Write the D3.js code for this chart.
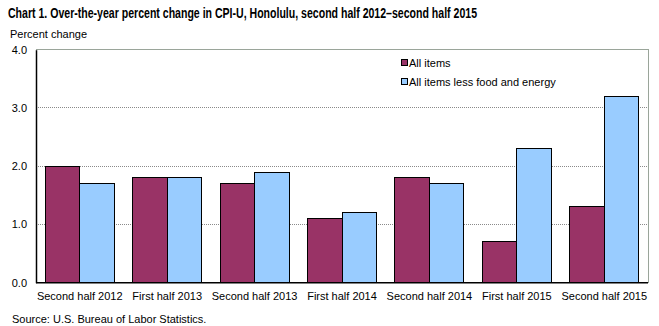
<!DOCTYPE html>
<html><head><meta charset="utf-8">
<script src="https://cdn.jsdelivr.net/npm/d3@7"></script>
<style>body{margin:0;background:#fff;} svg{display:block;font-family:"Liberation Sans",Arial,sans-serif;}</style>
</head><body>
<script>
const categories = ["Second half 2012","First half 2013","Second half 2013","First half 2014","Second half 2014","First half 2015","Second half 2015"];
const allItems = [2.0, 1.8, 1.7, 1.1, 1.8, 0.7, 1.3];
const lessFoodEnergy = [1.7, 1.8, 1.9, 1.2, 1.7, 2.3, 3.2];
const seriesNames = ["All items","All items less food and energy"];
const yTicks = [0, 1, 2, 3, 4];

const W = 659, H = 326;
const m = {left: 36, right: 11, top: 49.7, bottom: 43.3};
const svg = d3.select("body").append("svg").attr("width", W).attr("height", H);
const colors = ["#993366", "#99ccff"];

const x = d3.scaleBand().domain(categories).range([m.left, W - m.right]).paddingInner(0.21).paddingOuter(0.105);
const xs = d3.scaleBand().domain([0,1]).range([0, x.bandwidth()]);
const y = d3.scaleLinear().domain([0, 4]).range([H - m.bottom, m.top]);

// gridlines
svg.append("g").selectAll("line").data(yTicks.filter(d => d > 0 && d < 4)).join("line")
  .attr("x1", m.left).attr("x2", W - m.right).attr("y1", d => y(d)).attr("y2", d => y(d))
  .attr("stroke", "#8a8a8a").attr("stroke-width", 1).attr("stroke-dasharray", "1,1").attr("shape-rendering","crispEdges");
// top and right border
svg.append("path").attr("d", `M${m.left},${y(4)}H${W - m.right}V${y(0)}`)
  .attr("fill","none").attr("stroke","#9aa59a").attr("shape-rendering","crispEdges");

// bars
const series = [allItems, lessFoodEnergy];
series.forEach((vals, si) => {
  svg.append("g").selectAll("rect").data(vals).join("rect")
    .attr("x", (d, i) => x(categories[i]) + xs(si))
    .attr("width", xs.bandwidth())
    .attr("y", d => y(d)).attr("height", d => y(0) - y(d))
    .attr("fill", colors[si]).attr("stroke", "#000").attr("stroke-width", 1).attr("shape-rendering","crispEdges");
});

// y axis
const yAxis = d3.axisLeft(y).tickValues(yTicks).tickFormat(d3.format(".1f")).tickSize(0).tickPadding(9);
const ga = svg.append("g").attr("transform", `translate(${m.left},0)`).call(yAxis);
ga.select(".domain").attr("stroke","#000").attr("stroke-width",1.5);
ga.selectAll("text").attr("font-size", 11).attr("fill","#000").attr("font-family","Liberation Sans, Arial, sans-serif");

// x axis
const xAxis = d3.axisBottom(x).tickSize(0).tickPadding(10);
const gx = svg.append("g").attr("transform", `translate(0,${y(0)})`).call(xAxis);
gx.select(".domain").attr("stroke","#000").attr("stroke-width",1.5).attr("d", `M${m.left},0H${W - m.right}`);
gx.selectAll("text").attr("font-size", 11).attr("fill","#000").attr("font-family","Liberation Sans, Arial, sans-serif");

// legend
const lg = svg.append("g").attr("transform", "translate(401,0)");
seriesNames.forEach((n, i) => {
  const yy = 63 + i * 19;
  lg.append("rect").attr("x", 0.5).attr("y", yy - 3.5).attr("width", 6).attr("height", 6)
    .attr("fill", colors[i]).attr("stroke", "#000").attr("stroke-width", 1);
  lg.append("text").attr("x", 8).attr("y", yy + 4).attr("font-size", 11).text(n);
});

// titles
svg.append("text").attr("x", 8).attr("y", 18).attr("font-size", 14).attr("font-weight","bold")
  .attr("textLength", 469).attr("lengthAdjust","spacingAndGlyphs")
  .text("Chart 1. Over-the-year percent change in CPI-U, Honolulu, second  half 2012\u2013second  half 2015");
svg.append("text").attr("x", 10).attr("y", 38).attr("font-size", 11).text("Percent change");
svg.append("text").attr("x", 12).attr("y", 323).attr("font-size", 11).text("Source: U.S. Bureau of Labor Statistics.");
</script>
</body></html>
